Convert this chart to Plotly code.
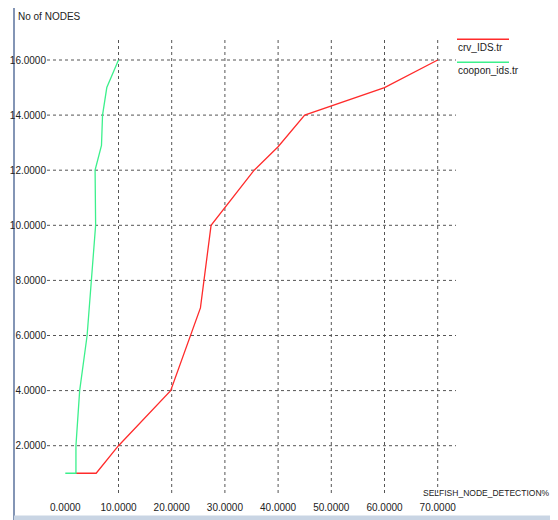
import plotly.graph_objects as go

# ---- data ----
crv_x = [2, 5.8, 10, 19.8, 25.4, 27.4, 35.5, 40, 45, 60, 70]
crv_y = [1, 1, 2, 4, 7, 10, 12, 12.85, 14, 15, 16]
coop_x = [0, 2, 2, 2.7, 4.1, 4.85, 5.7, 5.6, 6.8, 7.0, 7.8, 10]
coop_y = [1, 1, 2, 4, 6, 8, 10, 12, 12.9, 14, 15, 16]
series_names = ["crv_IDS.tr", "coopon_ids.tr"]
x_ticks = [0, 10, 20, 30, 40, 50, 60, 70]
y_ticks = [2, 4, 6, 8, 10, 12, 14, 16]
x_grid = [10, 20, 30, 40, 50, 60, 70]
x_title = "SELFISH_NODE_DETECTION%"
y_title = "No of NODES"

RED = "#ff2b2b"
GREEN = "#3cf08c"
FONT = "Liberation Sans, Arial, sans-serif"
TXT = "#222222"

OFF = 8  # page body margin
SW, SH = 558, 520
W, H = SW - OFF, SH - OFF
# plot area in screen pixels
PL, PR, PT, PB = 47, 456, 38, 493
L, T = PL - OFF, PT - OFF
R, B = W - (PR - OFF), H - (PB - OFF)
pw, ph = PR - PL, PB - PT


def px(xs):
    return (xs - PL) / pw


def py(ys):
    return (PB - ys) / ph


fig = go.Figure()
fig.add_trace(go.Scatter(x=crv_x, y=crv_y, mode="lines", line=dict(color=RED, width=1.3),
                         name=series_names[0], showlegend=False))
fig.add_trace(go.Scatter(x=coop_x, y=coop_y, mode="lines", line=dict(color=GREEN, width=1.3),
                         name=series_names[1], showlegend=False))

shapes = []
for gx in x_grid:
    shapes.append(dict(type="line", xref="x", yref="paper", x0=gx, x1=gx, y0=0, y1=1,
                       line=dict(color="#555555", width=1, dash="dot"), layer="below"))
for gy in y_ticks:
    shapes.append(dict(type="line", xref="paper", yref="y", x0=0, x1=1, y0=gy, y1=gy,
                       line=dict(color="#555555", width=1, dash="dot"), layer="below"))

# legend lines
shapes.append(dict(type="line", xref="paper", yref="paper", x0=px(457), x1=px(509),
                   y0=py(39.3), y1=py(39.3), line=dict(color=RED, width=1.5)))
shapes.append(dict(type="line", xref="paper", yref="paper", x0=px(457), x1=px(509),
                   y0=py(62.3), y1=py(62.3), line=dict(color=GREEN, width=1.5)))

# window frame
shapes.append(dict(type="line", xref="paper", yref="paper", x0=px(14), x1=px(14),
                   y0=py(8), y1=py(520), line=dict(color="#8395b5", width=2), layer="below"))
shapes.append(dict(type="rect", xref="paper", yref="paper", x0=px(553.5), x1=px(560),
                   y0=py(0), y1=py(520), line=dict(width=0), fillcolor="#dce6f2", layer="below"))
shapes.append(dict(type="line", xref="paper", yref="paper", x0=px(553), x1=px(553),
                   y0=py(8), y1=py(516), line=dict(color="#9aa6b6", width=1.5), layer="below"))
shapes.append(dict(type="rect", xref="paper", yref="paper", x0=px(14), x1=px(560),
                   y0=py(515.5), y1=py(522), line=dict(width=0), fillcolor="#c9d5e4", layer="below"))

annotations = [
    dict(text=y_title, xref="paper", yref="paper", x=px(16), y=py(17), xanchor="left",
         yanchor="middle", showarrow=False, font=dict(family=FONT, size=10, color=TXT)),
    dict(text=x_title, xref="paper", yref="paper", x=px(552), y=py(493), xanchor="right",
         yanchor="middle", showarrow=False, font=dict(family=FONT, size=8.5, color=TXT)),
    dict(text=series_names[0], xref="paper", yref="paper", x=px(456), y=py(47), xanchor="left",
         yanchor="middle", showarrow=False, font=dict(family=FONT, size=10, color=TXT)),
    dict(text=series_names[1], xref="paper", yref="paper", x=px(456), y=py(71), xanchor="left",
         yanchor="middle", showarrow=False, font=dict(family=FONT, size=10, color=TXT)),
]

x0_px, x_scale = 65.3, 5.32
y16_px, y_scale = 60.0, 27.55
xr = [(PL - x0_px) / x_scale, (PR - x0_px) / x_scale]
yr = [16 - (PB - y16_px) / y_scale, 16 + (y16_px - PT) / y_scale]

fig.update_layout(
    width=W, height=H, margin=dict(l=L, r=R, t=T, b=B, autoexpand=False),
    paper_bgcolor="white", plot_bgcolor="white",
    font=dict(family=FONT, size=10, color=TXT),
    xaxis=dict(range=xr, tickvals=x_ticks, ticktext=[f"{v:.4f}" for v in x_ticks],
               showgrid=False, zeroline=False, showline=False, ticks="", automargin=False,
               ticklabelstandoff=7, fixedrange=True),
    yaxis=dict(range=yr, tickvals=y_ticks, ticktext=[f"{v:.4f}" for v in y_ticks],
               showgrid=False, zeroline=False, showline=False, ticks="", automargin=False,
               ticklabelstandoff=0, fixedrange=True),
    shapes=shapes, annotations=annotations, showlegend=False,
)

fig.write_html("out.html")
